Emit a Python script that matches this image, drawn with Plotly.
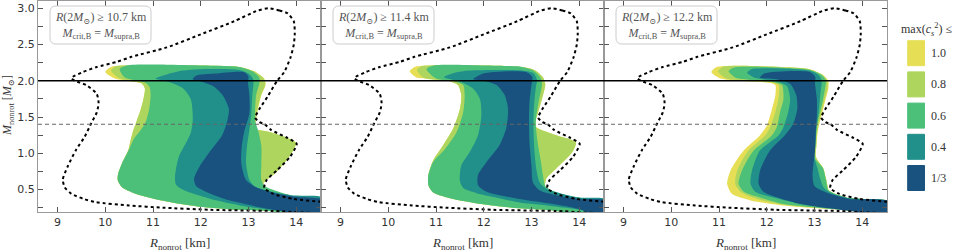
import plotly.graph_objects as go

# ---------------- data ----------------
R_RANGE = [8.59, 14.52]
M_RANGE = [0.19, 3.10]
R_TICKS = [9, 10, 11, 12, 13, 14]
M_MAX_LINE = 2.0      # solid line
M_CANON_LINE = 1.4    # dashed line

levels = ["1.0", "0.8", "0.6", "0.4", "1/3"]
colors = ["#e6df55", "#aed65e", "#4cbf79", "#21908b", "#19527f"]
radius_limits = ["10.7", "11.4", "12.2"]

# dotted envelope (same in every panel)
outline = [(13.43, 3.00), (13.65, 2.97), (13.82, 2.93), (13.95, 2.82), (13.97, 2.65), (13.95, 2.50),
           (13.88, 2.32), (13.75, 2.12), (13.60, 2.00), (13.40, 1.78), (13.22, 1.60), (13.14, 1.49),
           (13.23, 1.43), (13.34, 1.40), (13.48, 1.32), (13.82, 1.21), (14.01, 1.13), (13.87, 0.95),
           (13.59, 0.76), (13.38, 0.63), (13.33, 0.52), (13.52, 0.44), (13.94, 0.37), (14.54, 0.33),
           (14.90, 0.31), (14.90, 0.19), (13.50, 0.205), (12.20, 0.22), (11.20, 0.25), (10.50, 0.28),
           (9.80, 0.325), (9.55, 0.37), (9.29, 0.44), (9.15, 0.53), (9.11, 0.64), (9.22, 0.83),
           (9.39, 1.05), (9.57, 1.23), (9.71, 1.42), (9.82, 1.56), (9.86, 1.69), (9.82, 1.82),
           (9.60, 1.94), (9.36, 2.00), (9.29, 2.04), (9.53, 2.12), (9.82, 2.19), (10.24, 2.26),
           (10.55, 2.33), (11.29, 2.46), (12.00, 2.64), (12.70, 2.82), (13.20, 2.97), (13.43, 3.00)]

# panel 1: R(2Msun) >= 10.7 km
p1_c10 = [(10.00, 2.12), (10.12, 2.19), (10.40, 2.21), (12.00, 2.21), (12.80, 2.19), (13.12, 2.13),
          (13.33, 2.03), (13.36, 1.95), (13.27, 1.80), (13.20, 1.61), (13.16, 1.48), (13.14, 1.38),
          (13.17, 1.33), (13.40, 1.30), (13.82, 1.21), (14.00, 1.14), (13.96, 1.07), (13.82, 0.92),
          (13.57, 0.73), (13.36, 0.62), (13.29, 0.55), (13.39, 0.49), (13.75, 0.42), (14.10, 0.37),
          (14.60, 0.34), (14.60, 0.10), (13.50, 0.20), (12.80, 0.22), (12.21, 0.25), (11.90, 0.27),
          (11.40, 0.32), (10.91, 0.39), (10.56, 0.46), (10.35, 0.53), (10.26, 0.63), (10.27, 0.72),
          (10.35, 0.86), (10.48, 1.04), (10.52, 1.15), (10.58, 1.30), (10.66, 1.45), (10.74, 1.60),
          (10.80, 1.75), (10.83, 1.89), (10.77, 1.96), (10.55, 1.99), (10.20, 2.03)]
p1_c08 = [(10.12, 2.14), (10.22, 2.20), (10.45, 2.21), (12.00, 2.21), (12.80, 2.19), (13.12, 2.13),
          (13.32, 2.03), (13.35, 1.95), (13.26, 1.80), (13.19, 1.61), (13.16, 1.48), (13.14, 1.38),
          (13.17, 1.33), (13.40, 1.30), (13.82, 1.21), (14.00, 1.14), (13.96, 1.07), (13.82, 0.92),
          (13.57, 0.73), (13.36, 0.62), (13.29, 0.55), (13.39, 0.49), (13.75, 0.42), (14.10, 0.37),
          (14.60, 0.34), (14.60, 0.10), (13.50, 0.20), (12.80, 0.22), (12.21, 0.25), (11.90, 0.27),
          (11.40, 0.32), (10.91, 0.39), (10.56, 0.46), (10.35, 0.53), (10.26, 0.63), (10.27, 0.72),
          (10.35, 0.86), (10.48, 1.04), (10.52, 1.15), (10.58, 1.30), (10.66, 1.45), (10.74, 1.60),
          (10.80, 1.75), (10.83, 1.89), (10.77, 1.96), (10.55, 1.995), (10.30, 2.03)]
p1_c06 = [(10.30, 2.16), (10.45, 2.21), (12.00, 2.21), (12.80, 2.19), (13.08, 2.13), (13.23, 2.04),
          (13.23, 1.97), (13.16, 1.80), (13.14, 1.61), (13.14, 1.45), (13.20, 1.32), (13.27, 1.10),
          (13.27, 0.86), (13.27, 0.63), (13.34, 0.55), (13.50, 0.50), (13.68, 0.46), (14.10, 0.39),
          (14.60, 0.36), (14.60, 0.10), (13.50, 0.20), (12.80, 0.22), (12.21, 0.25), (11.90, 0.27),
          (11.40, 0.32), (10.91, 0.39), (10.56, 0.46), (10.35, 0.53), (10.26, 0.63), (10.27, 0.72),
          (10.35, 0.86), (10.49, 1.04), (10.60, 1.20), (10.72, 1.30), (10.84, 1.42), (10.92, 1.61),
          (10.95, 1.80), (10.93, 1.91), (10.85, 1.97), (10.60, 2.01), (10.40, 2.05)]
p1_c04 = [(11.05, 2.03), (11.30, 2.09), (11.62, 2.14), (12.00, 2.16), (12.80, 2.15), (13.00, 2.10),
          (13.10, 2.02), (13.08, 1.80), (13.06, 1.55), (13.02, 1.32), (12.97, 1.10), (12.95, 0.86),
          (13.02, 0.63), (13.12, 0.55), (13.30, 0.50), (13.89, 0.42), (14.60, 0.38), (14.60, 0.10),
          (14.00, 0.19), (13.50, 0.22), (13.00, 0.26), (12.60, 0.31), (12.21, 0.37), (11.90, 0.43),
          (11.62, 0.50), (11.48, 0.57), (11.46, 0.66), (11.48, 0.78), (11.54, 0.95), (11.68, 1.13),
          (11.79, 1.28), (11.83, 1.42), (11.83, 1.57), (11.79, 1.75), (11.62, 1.90), (11.35, 1.98)]
p1_c033 = [(11.83, 2.02), (11.90, 2.07), (12.30, 2.10), (12.90, 2.12), (13.00, 2.06), (12.99, 1.98),
           (13.02, 1.80), (13.02, 1.55), (12.92, 1.32), (12.86, 1.10), (12.85, 0.86), (12.95, 0.63),
           (13.16, 0.53), (13.50, 0.46), (14.00, 0.40), (14.60, 0.35), (14.60, 0.10), (14.00, 0.17),
           (13.50, 0.22), (13.00, 0.29), (12.50, 0.37), (12.11, 0.47), (11.90, 0.55), (11.86, 0.65),
           (11.97, 0.81), (12.21, 1.04), (12.45, 1.25), (12.55, 1.43), (12.59, 1.61), (12.46, 1.80),
           (12.25, 1.93), (12.00, 1.99)]

# panel 2: R(2Msun) >= 11.4 km
p2_c10 = [(10.45, 2.13), (10.55, 2.19), (10.80, 2.21), (12.00, 2.21), (12.80, 2.19), (13.06, 2.15),
          (13.24, 2.05), (13.29, 1.95), (13.22, 1.75), (13.14, 1.57), (13.09, 1.45), (13.10, 1.36),
          (13.34, 1.29), (13.60, 1.23), (13.93, 1.15), (13.86, 1.02), (13.52, 0.79), (13.31, 0.65),
          (13.29, 0.53), (13.45, 0.47), (13.80, 0.40), (14.20, 0.36), (14.60, 0.33), (14.60, 0.10),
          (13.45, 0.21), (12.75, 0.24), (12.06, 0.29), (11.36, 0.37), (10.94, 0.46), (10.84, 0.56),
          (10.84, 0.70), (10.94, 0.90), (11.15, 1.11), (11.36, 1.34), (11.50, 1.61), (11.53, 1.80),
          (11.46, 1.94), (11.30, 1.99), (10.90, 2.02), (10.58, 2.05)]
p2_c08 = [(10.60, 2.15), (10.70, 2.20), (10.90, 2.21), (12.00, 2.21), (12.80, 2.19), (13.06, 2.15),
          (13.24, 2.05), (13.29, 1.95), (13.22, 1.75), (13.14, 1.57), (13.09, 1.45), (13.10, 1.36),
          (13.34, 1.29), (13.60, 1.23), (13.93, 1.15), (13.86, 1.02), (13.52, 0.79), (13.31, 0.65),
          (13.29, 0.53), (13.45, 0.47), (13.80, 0.40), (14.20, 0.36), (14.60, 0.33), (14.60, 0.10),
          (13.45, 0.21), (12.75, 0.24), (12.06, 0.29), (11.36, 0.37), (10.94, 0.46), (10.84, 0.56),
          (10.84, 0.70), (10.94, 0.90), (11.15, 1.11), (11.36, 1.34), (11.50, 1.61), (11.53, 1.80),
          (11.46, 1.94), (11.30, 1.99), (10.90, 2.02), (10.72, 2.05)]
p2_c06 = [(10.80, 2.16), (10.95, 2.21), (12.00, 2.21), (12.80, 2.19), (13.04, 2.14), (13.20, 2.03),
          (13.22, 1.94), (13.15, 1.71), (13.09, 1.43), (13.13, 1.15), (13.20, 0.88), (13.24, 0.70),
          (13.29, 0.55), (13.45, 0.48), (13.80, 0.41), (14.20, 0.37), (14.60, 0.34), (14.60, 0.10),
          (13.45, 0.21), (12.75, 0.24), (12.06, 0.29), (11.36, 0.37), (10.94, 0.46), (10.84, 0.56),
          (10.84, 0.70), (10.94, 0.88), (11.19, 1.06), (11.43, 1.29), (11.57, 1.57), (11.60, 1.80),
          (11.57, 1.94), (11.40, 1.99), (11.00, 2.03)]
p2_c04 = [(11.17, 2.05), (11.40, 2.11), (11.71, 2.14), (12.80, 2.14), (13.05, 2.10), (13.12, 2.00),
          (13.10, 1.94), (13.06, 1.71), (13.04, 1.43), (13.06, 1.06), (13.10, 0.79), (13.17, 0.60),
          (13.31, 0.51), (13.60, 0.45), (14.00, 0.39), (14.60, 0.36), (14.60, 0.10), (14.00, 0.22),
          (13.45, 0.27), (12.75, 0.32), (12.40, 0.37), (11.85, 0.45), (11.57, 0.52), (11.50, 0.62),
          (11.53, 0.83), (11.71, 1.02), (11.88, 1.25), (11.95, 1.52), (11.92, 1.75), (11.78, 1.89),
          (11.50, 1.99)]
p2_c033 = [(11.78, 2.02), (11.99, 2.10), (12.89, 2.12), (13.02, 2.05), (13.00, 1.94), (12.96, 1.71),
           (12.95, 1.43), (12.96, 1.15), (13.00, 0.83), (13.03, 0.60), (13.17, 0.49), (13.59, 0.41),
           (14.00, 0.37), (14.60, 0.34), (14.60, 0.10), (14.00, 0.23), (13.45, 0.30), (12.75, 0.37),
           (12.06, 0.47), (11.88, 0.56), (11.88, 0.70), (12.06, 0.88), (12.33, 1.11), (12.47, 1.34),
           (12.51, 1.61), (12.44, 1.80), (12.27, 1.94), (12.00, 2.00)]

# panel 3: R(2Msun) >= 12.2 km
p3_c10 = [(10.84, 2.12), (10.95, 2.19), (12.30, 2.19), (12.90, 2.16), (13.18, 2.08), (13.29, 2.00),
          (13.29, 1.89), (13.22, 1.71), (13.15, 1.52), (13.10, 1.40), (13.07, 1.30), (13.04, 1.10),
          (13.03, 0.95), (13.18, 0.80), (13.25, 0.63), (13.30, 0.49), (13.40, 0.45), (13.74, 0.38),
          (14.60, 0.33), (14.60, 0.10), (13.74, 0.21), (13.05, 0.24), (12.35, 0.28), (11.66, 0.35),
          (11.27, 0.44), (11.17, 0.58), (11.24, 0.76), (11.52, 1.04), (11.86, 1.25), (12.00, 1.38),
          (12.11, 1.61), (12.18, 1.80), (12.18, 1.94), (12.07, 1.97), (11.66, 1.99), (11.03, 2.03)]
p3_c08 = [(10.98, 2.13), (11.08, 2.19), (12.30, 2.19), (12.90, 2.16), (13.17, 2.08), (13.27, 2.00),
          (13.27, 1.89), (13.20, 1.71), (13.13, 1.52), (13.09, 1.40), (13.06, 1.30), (13.04, 1.10),
          (13.03, 0.95), (13.18, 0.80), (13.25, 0.63), (13.30, 0.49), (13.40, 0.45), (13.74, 0.38),
          (14.60, 0.33), (14.60, 0.10), (13.74, 0.21), (13.05, 0.25), (12.35, 0.29), (11.80, 0.37),
          (11.45, 0.47), (11.34, 0.58), (11.38, 0.76), (11.62, 1.04), (11.97, 1.25), (12.07, 1.36),
          (12.18, 1.57), (12.25, 1.78), (12.25, 1.94), (12.10, 1.98), (11.66, 2.00), (11.15, 2.03)]
p3_c06 = [(11.20, 2.13), (11.30, 2.18), (12.30, 2.18), (12.90, 2.15), (13.15, 2.08), (13.24, 2.00),
          (13.22, 1.89), (13.17, 1.71), (13.10, 1.52), (13.06, 1.40), (13.03, 1.20), (13.01, 0.93),
          (13.18, 0.79), (13.24, 0.63), (13.29, 0.49), (13.40, 0.45), (13.74, 0.38), (14.60, 0.33),
          (14.60, 0.10), (13.74, 0.21), (13.05, 0.25), (12.35, 0.30), (11.86, 0.39), (11.52, 0.47),
          (11.41, 0.58), (11.48, 0.76), (11.73, 1.04), (12.11, 1.25), (12.21, 1.36), (12.28, 1.57),
          (12.35, 1.75), (12.32, 1.94), (12.15, 1.98), (11.66, 2.01), (11.35, 2.04)]
p3_c04 = [(11.59, 2.11), (11.68, 2.16), (12.90, 2.14), (13.10, 2.07), (13.15, 2.00), (13.12, 1.80),
          (13.08, 1.52), (13.04, 1.35), (13.02, 1.10), (13.00, 0.95), (13.06, 0.80), (13.12, 0.65),
          (13.20, 0.52), (13.35, 0.45), (13.74, 0.38), (14.60, 0.33), (14.60, 0.10), (13.90, 0.21),
          (13.20, 0.26), (12.60, 0.32), (12.14, 0.39), (11.76, 0.47), (11.66, 0.58), (11.69, 0.76),
          (11.86, 1.04), (12.25, 1.25), (12.35, 1.36), (12.45, 1.57), (12.49, 1.75), (12.42, 1.93),
          (12.20, 1.99), (11.75, 2.04)]
p3_c033 = [(11.86, 2.04), (11.95, 2.10), (12.90, 2.12), (13.02, 2.05), (13.01, 1.98), (13.05, 1.75),
           (13.05, 1.52), (13.03, 1.32), (13.01, 1.04), (12.98, 0.86), (12.96, 0.70), (13.00, 0.55),
           (13.33, 0.44), (13.74, 0.37), (14.60, 0.33), (14.60, 0.10), (14.00, 0.18), (13.30, 0.24),
           (12.70, 0.30), (12.28, 0.38), (11.93, 0.47), (11.83, 0.58), (11.86, 0.76), (12.07, 1.04),
           (12.38, 1.25), (12.55, 1.40), (12.64, 1.61), (12.62, 1.80), (12.49, 1.96), (12.20, 2.02)]

panels = [
    [p1_c10, p1_c08, p1_c06, p1_c04, p1_c033],
    [p2_c10, p2_c08, p2_c06, p2_c04, p2_c033],
    [p3_c10, p3_c08, p3_c06, p3_c04, p3_c033],
]

# ---------------- figure ----------------
W, H = 954, 252
ML, MR, MT, MB = 38, 67, 1, 40
plot_w = W - ML - MR
plot_h = H - MT - MB
panel_w = plot_w / 3

fig = go.Figure()
TXT = "#333333"
SERIF = "Liberation Serif, DejaVu Serif, serif"
SANS = "DejaVu Sans, sans-serif"

for i, regions in enumerate(panels):
    xa = "x" if i == 0 else f"x{i+1}"
    ya = "y" if i == 0 else f"y{i+1}"
    for poly, col, lev in zip(regions, colors, levels):
        fig.add_trace(go.Scatter(
            x=[p[0] for p in poly] + [poly[0][0]],
            y=[p[1] for p in poly] + [poly[0][1]],
            mode="lines", fill="toself", fillcolor=col,
            line=dict(width=0, color=col, shape="spline", smoothing=0.7),
            hoverinfo="skip", showlegend=False, name=lev,
            xaxis=xa, yaxis=ya))
    fig.add_trace(go.Scatter(
        x=[p[0] for p in outline], y=[p[1] for p in outline],
        mode="lines", line=dict(color="black", width=2, dash="dot", shape="spline", smoothing=0.6),
        hoverinfo="skip", showlegend=False, xaxis=xa, yaxis=ya))

layout = dict(
    width=W, height=H, margin=dict(l=ML, r=MR, t=MT, b=MB, autoexpand=False),
    paper_bgcolor="white", plot_bgcolor="white", showlegend=False,
    font=dict(family=SANS, size=11, color=TXT),
)

for i in range(3):
    sx = "" if i == 0 else str(i + 1)
    layout[f"xaxis{sx}"] = dict(
        domain=[i / 3, (i + 1) / 3], range=R_RANGE, anchor=f"y{sx}", automargin=False,
        tickvals=R_TICKS, ticks="inside", ticklen=5, tickcolor="#555",
        showline=True, linecolor="#999", linewidth=1, mirror="allticks",
        showgrid=False, zeroline=False, fixedrange=True,
        tickfont=dict(family=SANS, size=11, color=TXT),
    )
    layout[f"yaxis{sx}"] = dict(
        domain=[0, 1], range=M_RANGE, anchor=f"x{sx}", automargin=False,
        tick0=0.5, dtick=0.5, ticks="inside", ticklen=5, tickcolor="#555",
        minor=dict(dtick=0.25, tick0=0.25, ticks="inside", ticklen=5, tickcolor="#555"),
        showline=True, linecolor="#999", linewidth=1, mirror="allticks",
        showgrid=False, zeroline=False, showticklabels=(i == 0), fixedrange=True,
        tickformat=".1f",
        tickfont=dict(family=SANS, size=11, color=TXT),
    )


def px2paper_x(px):
    return (px - ML) / plot_w


def py2paper_y(py):
    return (H - MB - py) / plot_h


# rounded info box, in axis-domain fractions
bx0, bx1 = 12 / panel_w, 113 / panel_w
by0, by1 = 1 - 43 / plot_h, 1 - 5 / plot_h
rx, ry = 6 / panel_w, 6 / plot_h
box_path = (f"M{bx0+rx},{by1} L{bx1-rx},{by1} Q{bx1},{by1} {bx1},{by1-ry} "
            f"L{bx1},{by0+ry} Q{bx1},{by0} {bx1-rx},{by0} L{bx0+rx},{by0} "
            f"Q{bx0},{by0} {bx0},{by0+ry} L{bx0},{by1-ry} Q{bx0},{by1} {bx0+rx},{by1} Z")

shapes = []
annotations = []
for i in range(3):
    sx = "" if i == 0 else str(i + 1)
    shapes.append(dict(type="line", xref=f"x{sx} domain", yref=f"y{sx}", x0=0, x1=1,
                       y0=M_MAX_LINE, y1=M_MAX_LINE, line=dict(color="black", width=1.6)))
    shapes.append(dict(type="line", xref=f"x{sx} domain", yref=f"y{sx}", x0=0, x1=1,
                       y0=M_CANON_LINE, y1=M_CANON_LINE,
                       line=dict(color="#666", width=1, dash="4px,3px")))
    shapes.append(dict(type="path", xref=f"x{sx} domain", yref=f"y{sx} domain", path=box_path,
                       fillcolor="rgba(255,255,255,0.85)", line=dict(color="#cccccc", width=1)))
    annotations.append(dict(
        xref=f"x{sx} domain", yref=f"y{sx} domain", x=(bx0 + bx1) / 2, y=(by0 + by1) / 2,
        xanchor="center", yanchor="middle", align="center", showarrow=False,
        text=(f"<i>R</i>(2<i>M</i><sub>⊙</sub>) ≥ {radius_limits[i]} km<br>"
              "<i>M</i><sub>crit,B</sub> = <i>M</i><sub>supra,B</sub>"),
        font=dict(family=SERIF, size=12, color="#555"),
    ))
    # x-axis title
    annotations.append(dict(
        xref=f"x{sx} domain", yref="paper", x=0.5, y=py2paper_y(243),
        xanchor="center", yanchor="middle", showarrow=False,
        text="<i>R</i><sub>nonrot</sub> [km]",
        font=dict(family=SERIF, size=13, color=TXT)))

# y-axis title
annotations.append(dict(
    xref="paper", yref="paper", x=px2paper_x(8), y=py2paper_y(106),
    xanchor="center", yanchor="middle", showarrow=False, textangle=-90,
    text="<i>M</i><sub>nonrot</sub> [<i>M</i><sub>⊙</sub>]",
    font=dict(family=SERIF, size=12, color=TXT)))

# legend (colour key)
annotations.append(dict(
    xref="paper", yref="paper", x=px2paper_x(899), y=py2paper_y(29),
    xanchor="left", yanchor="middle", showarrow=False,
    text="max(<i>c</i><sub><i>s</i></sub><sup>2</sup>) ≤",
    font=dict(family=SERIF, size=12, color=TXT)))
for k, (lev, col) in enumerate(zip(levels, colors)):
    top = 40.7 + k * 31.2
    shapes.append(dict(type="rect", xref="paper", yref="paper",
                       x0=px2paper_x(907.7), x1=px2paper_x(924.5),
                       y0=py2paper_y(top + 25), y1=py2paper_y(top),
                       fillcolor=col, line=dict(color=col, width=1)))
    annotations.append(dict(
        xref="paper", yref="paper", x=px2paper_x(929), y=py2paper_y(top + 12.5),
        xanchor="left", yanchor="middle", showarrow=False, text=lev,
        font=dict(family=SERIF, size=12, color=TXT)))

layout["shapes"] = shapes
layout["annotations"] = annotations
fig.update_layout(**layout)
fig.write_html("out.html", config={"displayModeBar": False, "staticPlot": True},
               post_script="document.body.style.margin='0';document.body.style.overflow='hidden';")
